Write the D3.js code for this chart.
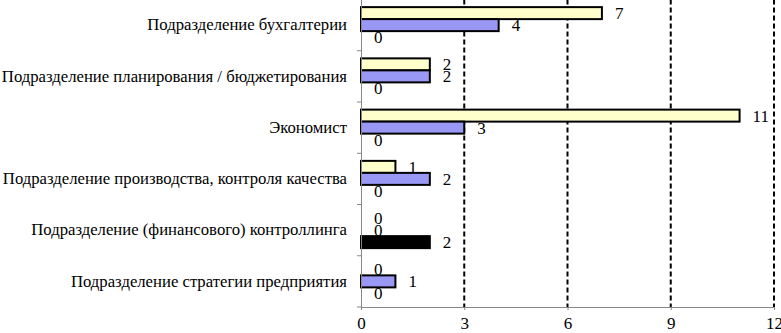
<!DOCTYPE html>
<html>
<head>
<meta charset="utf-8">
<script src="https://d3js.org/d3.v7.min.js"></script>
<style>
  body { margin: 0; background: #fff; }
</style>
</head>
<body>
<svg width="781" height="333"></svg>
<script>
// data, top to bottom
const categories = [
  "Подразделение бухгалтерии",
  "Подразделение планирования / бюджетирования",
  "Экономист",
  "Подразделение производства, контроля качества",
  "Подразделение (финансового) контроллинга",
  "Подразделение стратегии предприятия"
];
const seriesNames = ["s1", "s2", "s3"];
const seriesColors = ["#ffffcc", "#9999f5", "#000000"];
const valuesS1 = [7, 2, 11, 1, 0, 0];
const valuesS2 = [4, 2, 3, 2, 0, 1];
const valuesS3 = [0, 0, 0, 0, 2, 0];
const xTicks = [0, 3, 6, 9, 12];

const series = [valuesS1, valuesS2, valuesS3];
const FONT = "'Liberation Serif', 'Times New Roman', serif";

const svg = d3.select("svg");
const mLeft = 361, mRight = 774, mTop = -0.5, mBottom = 307;

const x = d3.scaleLinear().domain([0, 12]).range([mLeft, mRight]);
const y = d3.scaleBand().domain(categories).range([mTop, mBottom]).paddingInner(0).paddingOuter(0);
const yIn = d3.scaleBand().domain(seriesNames).range([0, y.bandwidth()]).paddingOuter(0.635).paddingInner(0);

// dashed grid
svg.append("g").selectAll("line")
  .data(xTicks.filter(d => d > 0))
  .join("line")
  .attr("x1", d => x(d)).attr("x2", d => x(d))
  .attr("y1", mTop).attr("y2", mBottom)
  .attr("stroke", "#000").attr("stroke-width", 2)
  .attr("stroke-dasharray", "5,3");

// bars
const rows = [];
categories.forEach((c, i) => {
  series.forEach((vals, j) => rows.push({ cat: c, s: seriesNames[j], v: vals[i], color: seriesColors[j] }));
});

svg.append("g").selectAll("rect")
  .data(rows.filter(d => d.v > 0))
  .join("rect")
  .attr("x", x(0))
  .attr("y", d => y(d.cat) + yIn(d.s))
  .attr("width", d => x(d.v) - x(0))
  .attr("height", yIn.bandwidth())
  .attr("fill", d => d.color)
  .attr("stroke", "#000")
  .attr("stroke-width", 2);

// value labels
svg.append("g").selectAll("text")
  .data(rows)
  .join("text")
  .attr("x", d => x(d.v) + 13)
  .attr("y", d => y(d.cat) + yIn(d.s) + yIn.bandwidth() / 2)
  .attr("dy", "0.35em")
  .style("font-family", FONT)
  .style("font-size", "17px")
  .text(d => d.v);

// x axis
const xAxis = svg.append("g")
  .attr("transform", `translate(0,${mBottom})`)
  .call(d3.axisBottom(x).tickValues(xTicks).tickSize(3).tickPadding(7));
xAxis.select(".domain").attr("stroke", "#888");
xAxis.selectAll(".tick line").attr("stroke", "#888");
xAxis.selectAll("text").style("font-family", FONT).style("font-size", "17px");

// y axis
const yAxis = svg.append("g")
  .attr("transform", `translate(${mLeft},0)`)
  .call(d3.axisLeft(y).tickSize(0).tickPadding(14));
yAxis.select(".domain").attr("stroke", "#888");
yAxis.selectAll("text").style("font-family", FONT).style("font-size", "16.7px");
// category separator ticks
yAxis.append("g").selectAll("line")
  .data(categories.map(c => y(c)).concat([mBottom]))
  .join("line")
  .attr("x1", -4).attr("x2", 0)
  .attr("y1", d => d).attr("y2", d => d)
  .attr("stroke", "#888");
</script>
</body>
</html>
